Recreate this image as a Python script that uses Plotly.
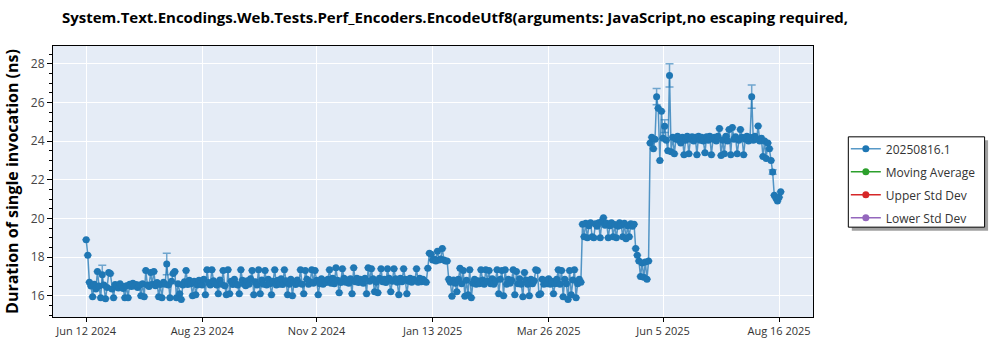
import pandas as pd
import plotly.graph_objects as go

series_name = "20250816.1"
start_date = "2024-06-12"

# one run per day starting 2024-06-12 (ns)
durations = [
    18.9, 18.1, 16.7, 16.5, 15.95, 16.6, 16.35, 17.25, 16.5, 15.9,
    17.08, 16.55, 15.85, 16.42, 17.2, 17.15, 16.35, 15.9, 16.58, 16.45,
    16.4, 16.62, 16.5, 16.38, 15.9, 16.52, 15.9, 16.6, 16.48, 16.65,
    16.5, 16.58, 16.42, 16.55, 16.0, 16.62, 15.95, 17.3, 16.55, 16.48,
    17.2, 16.6, 17.25, 16.52, 16.68, 15.95, 16.58, 15.9, 16.7, 16.6,
    17.64, 16.55, 15.9, 16.75, 17.15, 17.25, 15.9, 16.62, 16.1, 15.8,
    16.55, 16.72, 17.3, 16.58, 16.8, 16.62, 16.0, 16.75, 16.05, 16.55,
    16.8, 16.62, 16.55, 16.85, 16.05, 17.35, 16.68, 16.55, 17.35, 16.78,
    16.62, 16.55, 16.1, 16.82, 16.6, 17.3, 16.52, 16.05, 17.35, 16.1,
    16.75, 16.58, 16.85, 16.62, 16.55, 16.1, 17.35, 16.8, 16.6, 16.52,
    16.78, 16.6, 16.88, 17.3, 16.05, 16.72, 16.55, 17.35, 16.1, 16.82,
    16.6, 17.3, 16.55, 16.85, 16.62, 16.05, 16.75, 17.35, 16.55, 16.8,
    16.6, 16.88, 16.58, 17.35, 16.78, 16.05, 16.6, 16.85, 16.0, 16.7,
    16.58, 16.82, 16.65, 17.35, 16.6, 16.1, 17.3, 16.85, 16.6, 16.72,
    17.35, 16.65, 17.3, 16.8, 16.05, 16.62, 16.88, 16.6, 16.78, 16.68,
    16.85, 17.35, 16.65, 16.9, 16.62, 17.45, 16.8, 16.15, 16.68, 17.4,
    16.9, 16.7, 16.82, 16.65, 16.88, 16.1, 17.45, 16.72, 16.9, 16.68,
    16.85, 16.72, 16.65, 16.9, 16.1, 17.45, 16.75, 17.4, 16.88, 16.2,
    16.7, 16.15, 16.9, 17.4, 16.72, 16.85, 16.68, 17.4, 16.9, 16.2,
    16.75, 17.4, 16.88, 16.7, 16.05, 16.9, 16.72, 17.4, 16.85, 16.1,
    16.75, 16.9, 16.7, 16.85, 16.78, 17.4, 16.7, 16.9, 16.72, 16.85,
    16.75, 16.7, 17.42, 18.2, 18.15, 17.85, 17.9, 17.8, 18.3, 17.85,
    17.9, 18.45, 17.85, 17.8, 17.8, 16.85, 16.7, 15.97, 16.82, 16.65,
    16.2, 16.85, 17.42, 16.62, 17.3, 15.97, 16.8, 16.05, 17.35, 15.9,
    16.65, 16.85, 16.6, 16.78, 16.62, 17.35, 16.82, 16.6, 17.35, 16.75,
    17.3, 16.62, 16.88, 16.6, 16.78, 17.35, 16.1, 16.85, 17.3, 16.0,
    17.35, 16.6, 16.85, 16.65, 16.8, 17.35, 16.05, 17.25, 16.62, 16.88,
    16.6, 15.95, 17.2, 16.82, 16.6, 16.0, 16.85, 16.62, 16.78, 17.35,
    17.3, 16.05, 16.1, 16.85, 16.6, 16.8, 16.62, 16.88, 16.6, 16.75,
    16.1, 16.62, 16.85, 17.35, 16.6, 17.3, 15.95, 16.85, 16.62, 15.8,
    17.3, 16.05, 16.82, 17.35, 15.9, 16.62, 16.85, 16.7, 19.7, 19.05,
    19.75, 19.0, 19.62, 19.78, 19.05, 19.0, 19.72, 19.6, 19.78, 19.0,
    19.85, 20.04, 19.65, 19.75, 19.0, 19.62, 19.78, 19.05, 19.68, 19.0,
    19.6, 19.78, 19.65, 19.05, 19.75, 18.95, 19.62, 19.05, 19.72, 19.6,
    19.7, 18.45, 18.1, 17.8, 17.0, 17.7, 16.95, 17.75, 16.85, 17.8,
    23.9, 24.2, 23.6, 24.1, 26.3, 25.7, 23.0, 25.55, 24.15, 24.77,
    24.05, 23.5, 27.4, 23.45, 24.2, 23.35, 24.1, 24.25, 24.05, 23.9,
    24.2, 23.3, 24.05, 24.25, 23.35, 24.1, 24.22, 24.0, 24.2, 23.3,
    24.25, 24.05, 24.2, 24.0, 23.4, 24.22, 24.05, 24.25, 23.3, 24.1,
    24.2, 24.0, 24.25, 24.65, 23.25, 24.05, 23.35, 24.25, 24.0, 24.6,
    23.3, 24.7, 24.1, 24.22, 23.35, 24.05, 24.6, 24.2, 23.3, 24.1,
    24.25, 24.0, 24.2, 26.3, 24.05, 24.25, 24.1, 24.78, 24.0, 24.15,
    23.2, 24.0, 23.1, 23.9, 23.6, 23.0, 22.4, 21.2, 21.05, 20.9,
    21.1, 21.38,
]

# runs with a visible spread (index of run, +/- ns)
error_runs = [10, 50, 354, 359, 362, 413, 426]
error_sizes = [0.5, 0.56, 0.42, 0.33, 0.6, 0.6, 0.12]

extra_series = ["Moving Average", "Upper Std Dev", "Lower Std Dev"]
extra_colors = ["#2ca02c", "#d62728", "#9467bd"]

tick_dates = ["2024-06-12", "2024-08-23", "2024-11-02", "2025-01-13",
              "2025-03-26", "2025-06-05", "2025-08-16"]
tick_labels = ["Jun 12 2024", "Aug 23 2024", "Nov 2 2024", "Jan 13 2025",
               "Mar 26 2025", "Jun 5 2025", "Aug 16 2025"]
y_ticks = [16, 18, 20, 22, 24, 26, 28]

title_text = "System.Text.Encodings.Web.Tests.Perf_Encoders.EncodeUtf8(arguments: JavaScript,no escaping required,"
y_title = "Duration of single invocation (ns)"

dates = pd.date_range(start_date, periods=len(durations), freq="D")
errors = [0.0] * len(durations)
for i, e in zip(error_runs, error_sizes):
    errors[i] = e

FONT = "Segoe UI, Open Sans, Noto Sans, sans-serif"

fig = go.Figure()
fig.add_trace(go.Scatter(
    x=dates, y=durations, name=series_name, mode="lines+markers",
    legendgroup="g0",
    line=dict(color="rgba(31,119,180,0.75)", width=1.5),
    marker=dict(color="#1f77b4", size=7),
    error_y=dict(type="data", array=errors, visible=True,
                 color="rgba(31,119,180,0.6)", thickness=1.5, width=4),
))
for k, (name, col) in enumerate(zip(extra_series, extra_colors)):
    fig.add_trace(go.Scatter(x=[None], y=[None], name=name, mode="lines+markers",
                             legendgroup="g%d" % (k + 1),
                             line=dict(color=col, width=1.5),
                             marker=dict(color=col, size=7)))

plot_l, plot_r, plot_t, plot_b = 49, 813, 46, 319
pw, ph = plot_r - plot_l, plot_b - plot_t

def px(x):
    return (x - plot_l) / pw

def py(y):
    return (plot_b - y) / ph

# legend drop shadow and frame
fig.add_shape(type="rect", xref="paper", yref="paper",
              x0=px(852), x1=px(989), y0=py(232), y1=py(141),
              fillcolor="#a0a0a0", line=dict(width=0), layer="above")
fig.add_shape(type="rect", xref="paper", yref="paper",
              x0=px(848.5), x1=px(985.5), y0=py(228.5), y1=py(137.5),
              fillcolor="white", line=dict(color="black", width=1), layer="above")

fig.update_layout(
    width=1000, height=350,
    margin=dict(l=plot_l, r=1000 - plot_r, t=plot_t, b=350 - plot_b),
    paper_bgcolor="white", plot_bgcolor="#E5ECF6",
    font=dict(family=FONT, size=12, color="#333"),
    title=dict(text="<b>" + title_text + "</b>", x=62 / 1000, xanchor="left",
               y=1 - 18 / 350, yanchor="middle",
               font=dict(family=FONT, size=15, color="black")),
    showlegend=True,
    legend=dict(x=px(846), y=py(135), xanchor="left", yanchor="top",
                bgcolor="rgba(0,0,0,0)", borderwidth=0,
                font=dict(family=FONT, size=12, color="#333"),
                tracegroupgap=4),
    xaxis=dict(type="date", range=["2024-05-22 10:00", "2025-09-06 01:00"],
               tickvals=tick_dates, ticktext=tick_labels,
               showgrid=True, gridcolor="white", gridwidth=1,
               showline=True, linecolor="black", linewidth=1, mirror=True,
               ticks="outside", ticklen=4, tickcolor="black",
               tickfont=dict(size=11, color="#333"), zeroline=False),
    yaxis=dict(range=[14.9, 28.92], tickvals=y_ticks,
               showgrid=True, gridcolor="white", gridwidth=1,
               showline=True, linecolor="black", linewidth=1, mirror=True,
               ticks="outside", ticklen=5, tickcolor="black",
               tickfont=dict(size=12, color="#444"),
               minor=dict(dtick=0.5, ticks="outside", ticklen=3, tickcolor="black", showgrid=False),
               title=dict(text="<b>" + y_title + "</b>", standoff=8,
                          font=dict(family=FONT, size=16, color="black")),
               zeroline=False),
)

fig.write_html("out.html")
